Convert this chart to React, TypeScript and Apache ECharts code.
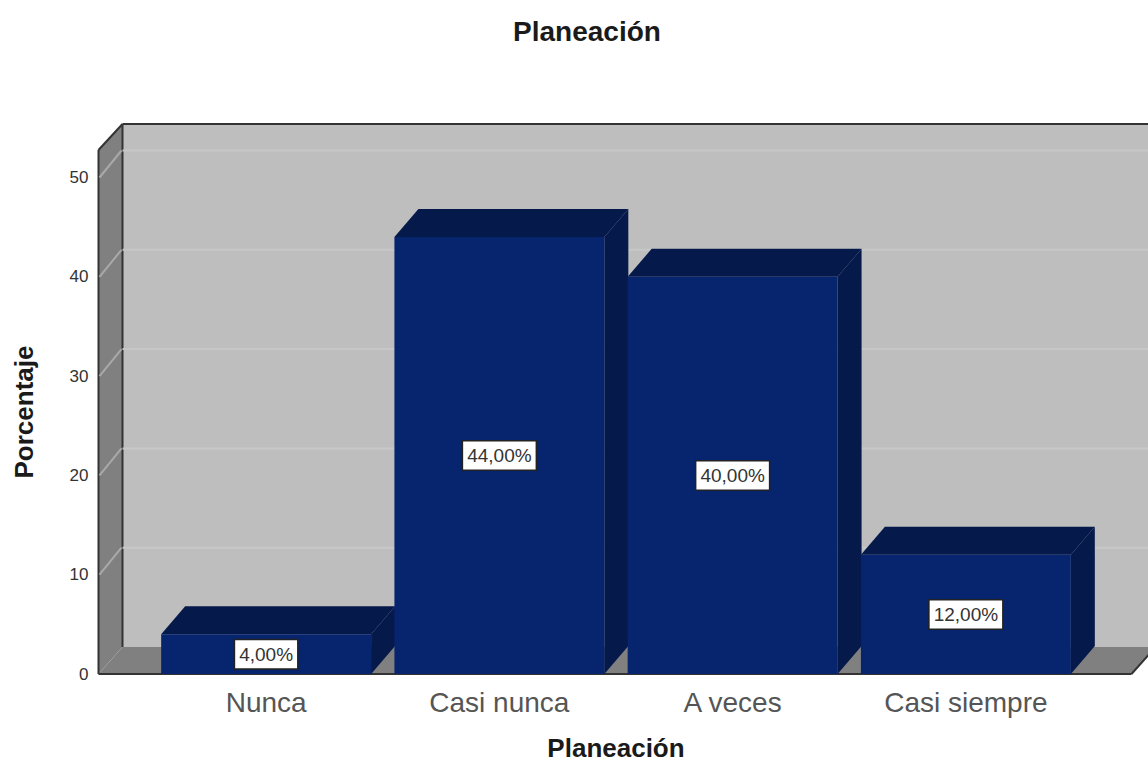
import React, { useEffect, useRef } from "react";
import * as echarts from "echarts";

const categories = ["Nunca", "Casi nunca", "A veces", "Casi siempre"];
const percentages = [4, 44, 40, 12];
const barLabels = ["4,00%", "44,00%", "40,00%", "12,00%"];
const gridValues = [10, 20, 30, 40, 50];
const chartTitle = "Planeación";
const xAxisName = "Planeación";
const yAxisName = "Porcentaje";

const DX = 24;
const DY = 27;
const FONT = '"Liberation Sans", Arial, sans-serif';

export default function App() {
  const ref = useRef<HTMLDivElement>(null);
  useEffect(() => {
    if (!ref.current) return;
    const chart = echarts.init(ref.current, undefined, { renderer: "svg" });

    const renderBackdrop = (params: any, api: any) => {
      const cs = params.coordSys;
      const yBottom = api.coord([0, 0])[1];
      const yTop = cs.y;
      const xL = cs.x - 51;
      const xR = cs.x + cs.width + 49;
      const edge = { stroke: "#333333", lineWidth: 2 };
      const backWall = [[xL + DX, yTop - DY + 1], [xR + DX, yTop - DY + 1], [xR + DX, yBottom - DY], [xL + DX, yBottom - DY]];
      const leftWall = [[xL, yTop], [xL + DX, yTop - DY + 1], [xL + DX, yBottom - DY], [xL, yBottom]];
      const floor = [[xL, yBottom], [xL + DX, yBottom - DY], [xR + DX, yBottom - DY], [xR, yBottom]];
      return {
        type: "group",
        children: [
          { type: "polygon", shape: { points: backWall }, style: { fill: "#bebebe" } },
          { type: "polygon", shape: { points: leftWall }, style: { fill: "#808080" } },
          { type: "polygon", shape: { points: floor }, style: { fill: "#808080" } },
          { type: "line", shape: { x1: xL + DX, y1: yTop - DY + 1, x2: xR + DX, y2: yTop - DY + 1 }, style: edge },
          { type: "line", shape: { x1: xL + DX, y1: yTop - DY + 1, x2: xL + DX, y2: yBottom - DY }, style: edge },
          { type: "line", shape: { x1: xL, y1: yTop, x2: xL + DX, y2: yTop - DY + 1 }, style: edge },
          { type: "line", shape: { x1: xL, y1: yTop, x2: xL, y2: yBottom }, style: edge },
          { type: "line", shape: { x1: xL, y1: yBottom, x2: xR, y2: yBottom }, style: edge },
          { type: "line", shape: { x1: xR, y1: yBottom, x2: xR + DX, y2: yBottom - DY }, style: edge },
        ],
      };
    };

    const renderGrid = (params: any, api: any) => {
      const cs = params.coordSys;
      const y = api.coord([0, api.value(1)])[1];
      const xL = cs.x - 51;
      const xR = cs.x + cs.width + 49;
      return {
        type: "group",
        children: [
          { type: "line", shape: { x1: xL + DX, y1: y - DY, x2: xR + DX, y2: y - DY }, style: { stroke: "#c7c7c7", lineWidth: 2 } },
          { type: "line", shape: { x1: xL + 1, y1: y, x2: xL + DX - 1, y2: y - DY }, style: { stroke: "#a9a9a9", lineWidth: 2 } },
        ],
      };
    };

    const renderBar = (_params: any, api: any) => {
      const i = api.value(0);
      const [cx, y0] = api.coord([i, 0]);
      const [, y1] = api.coord([i, api.value(1)]);
      const w = api.size([1, 0])[0] * 0.9;
      const l = cx - w / 2;
      const r = cx + w / 2;
      const depthY = DY + 1;
      return {
        type: "group",
        children: [
          { type: "polygon", shape: { points: [[l, y1], [l + DX, y1 - depthY], [r + DX, y1 - depthY], [r, y1]] }, style: { fill: "#05194b" } },
          { type: "polygon", shape: { points: [[r, y1], [r + DX, y1 - depthY], [r + DX, y0 - depthY], [r, y0]] }, style: { fill: "#05194b" } },
          { type: "rect", shape: { x: l, y: y1, width: w, height: y0 - y1 }, style: { fill: "#07246f" } },
          {
            type: "text",
            z2: 10,
            x: cx,
            y: (y0 + y1) / 2,
            style: {
              text: barLabels[i],
              align: "center",
              verticalAlign: "middle",
              font: `19px ${FONT}`,
              fill: "#333333",
              backgroundColor: "#ffffff",
              borderColor: "#222222",
              borderWidth: 1.5,
              padding: [5, 4, 4, 4],
            },
          },
        ],
      };
    };

    chart.setOption({
      animation: false,
      backgroundColor: "#ffffff",
      title: {
        text: chartTitle,
        left: 582,
        top: 12,
        textAlign: "center",
        textStyle: { fontFamily: FONT, fontSize: 28, fontWeight: "bold", color: "#1a1a1a" },
      },
      grid: { left: 149.5, top: 150, width: 933, height: 524, containLabel: false, outerBoundsMode: "none" },
      xAxis: {
        type: "category",
        data: categories,
        name: xAxisName,
        nameLocation: "middle",
        nameGap: 61,
        nameTextStyle: { fontFamily: FONT, fontSize: 26, fontWeight: "bold", color: "#1a1a1a" },
        axisLine: { show: false },
        axisTick: { show: false },
        axisLabel: { fontFamily: FONT, fontSize: 28, color: "#555555", margin: 14 },
      },
      yAxis: {
        type: "value",
        min: 0,
        max: 52.77,
        interval: 10,
        offset: 51,
        name: yAxisName,
        nameLocation: "middle",
        nameGap: 62,
        nameTextStyle: { fontFamily: FONT, fontSize: 26, fontWeight: "bold", color: "#1a1a1a" },
        axisLine: { show: false },
        axisTick: { show: false },
        splitLine: { show: false },
        axisLabel: { fontFamily: FONT, fontSize: 17, color: "#333333", margin: 10, showMaxLabel: false },
      },
      series: [
        { type: "custom", z: 1, clip: false, silent: true, renderItem: renderBackdrop, data: [[0, 0]], encode: { x: 0, y: 1 } },
        { type: "custom", z: 2, clip: false, silent: true, renderItem: renderGrid, data: gridValues.map((v) => [0, v]), encode: { x: 0, y: 1 } },
        { type: "custom", z: 3, clip: false, silent: true, renderItem: renderBar, data: percentages.map((v, i) => [i, v]), encode: { x: 0, y: 1 } },
      ],
    });
    return () => chart.dispose();
  }, []);
  return <div ref={ref} style={{ position: "absolute", left: 0, top: 0, width: 1148, height: 764 }} />;
}
